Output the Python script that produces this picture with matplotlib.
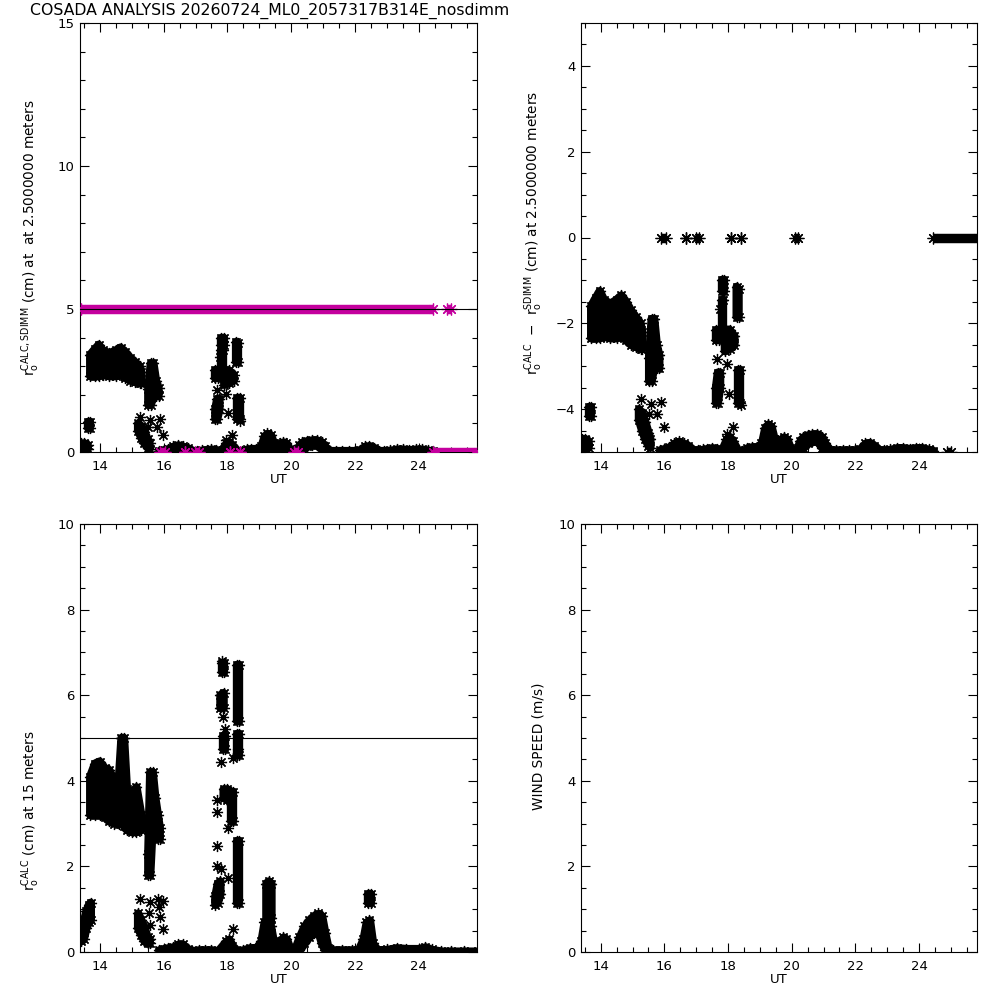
import numpy as np
import matplotlib.pyplot as plt
from matplotlib.ticker import MultipleLocator

nan = np.nan

# r0 CALC at 2.5 m: clusters as (time, lower edge, upper edge), nan between clusters
calc25_t = [13.42, 13.52, 13.62, nan,
            13.62, 13.70, nan,
            13.70, 13.85, 13.97, 14.10, 14.30, 14.50, 14.65, 14.80, 14.95, 15.10, 15.25, 15.30, nan,
            15.20, 15.30, 15.40, 15.50, 15.56, nan,
            15.52, 15.60, 15.68, 15.76, 15.84, nan,
            17.80, 17.88, nan,
            17.80, 17.85, nan,
            17.62, 17.70, nan,
            17.62, 17.68, 17.75, nan,
            17.90, 18.05, 18.20, nan,
            18.27, 18.33, nan,
            18.30, 18.38]
calc25_lo = [0.05, 0.08, 0.10, nan,
             0.85, 0.85, nan,
             2.65, 2.65, 2.65, 2.70, 2.65, 2.65, 2.70, 2.60, 2.50, 2.45, 2.40, 2.40, nan,
             0.75, 0.50, 0.30, 0.15, 0.10, nan,
             1.65, 1.65, 2.00, 1.95, 1.95, nan,
             3.75, 3.75, nan,
             2.65, 2.65, nan,
             2.60, 2.60, nan,
             1.15, 1.15, 1.50, nan,
             2.35, 2.40, 2.50, nan,
             3.15, 3.15, nan,
             1.15, 1.15]
calc25_hi = [0.30, 0.30, 0.25, nan,
             1.05, 1.05, nan,
             3.40, 3.60, 3.75, 3.55, 3.45, 3.55, 3.65, 3.50, 3.30, 3.15, 3.00, 2.80, nan,
             1.00, 0.90, 0.70, 0.45, 0.30, nan,
             2.20, 3.10, 3.10, 2.50, 2.25, nan,
             4.00, 4.00, nan,
             3.55, 3.55, nan,
             2.85, 2.85, nan,
             1.50, 1.85, 1.85, nan,
             2.85, 2.85, 2.70, nan,
             3.85, 3.80, nan,
             1.90, 1.90]

# low trace near zero at 2.5 m
base25_t = [15.85, 16.00, 16.15, 16.30, 16.45, 16.60, 16.75, 16.90, 17.05, 17.20, 17.35, 17.50,
            17.65, 17.80, 17.95, 18.05, 18.15, 18.30, 18.45, 18.60, 18.75, 18.90, 19.05, 19.15,
            19.25, 19.35, 19.45, 19.55, 19.65, 19.75, 19.85, 19.95, 20.05, 20.15, 20.25, 20.35,
            20.50, 20.65, 20.80, 20.95, 21.05, 21.20, 21.40, 21.60, 21.80, 22.00, 22.15, 22.30,
            22.45, 22.60, 22.75, 22.90, 23.10, 23.30, 23.50, 23.70, 23.90, 24.10, 24.30, 24.45]
base25_lo = [0.00, 0.00, 0.02, 0.05, 0.05, 0.05, 0.02, 0.00, 0.00, 0.00, 0.00, 0.00,
             0.00, 0.00, 0.05, 0.10, 0.05, 0.00, 0.00, 0.02, 0.03, 0.03, 0.05, 0.05,
             0.10, 0.08, 0.05, 0.02, 0.05, 0.05, 0.05, 0.02, 0.00, 0.00, 0.05, 0.10,
             0.20, 0.25, 0.25, 0.10, 0.02, 0.00, 0.00, 0.00, 0.00, 0.00, 0.00, 0.05,
             0.05, 0.02, 0.00, 0.00, 0.00, 0.02, 0.02, 0.02, 0.02, 0.02, 0.00, 0.00]
base25_hi = [0.05, 0.08, 0.12, 0.20, 0.25, 0.20, 0.15, 0.05, 0.05, 0.06, 0.08, 0.10,
             0.08, 0.05, 0.30, 0.35, 0.25, 0.05, 0.02, 0.10, 0.12, 0.12, 0.20, 0.55,
             0.65, 0.60, 0.30, 0.12, 0.30, 0.35, 0.30, 0.10, 0.03, 0.05, 0.25, 0.35,
             0.40, 0.42, 0.42, 0.35, 0.20, 0.05, 0.05, 0.05, 0.05, 0.05, 0.08, 0.20,
             0.22, 0.15, 0.05, 0.05, 0.06, 0.10, 0.10, 0.08, 0.10, 0.10, 0.06, 0.03]

# single points at 2.5 m
pts25_t = [15.25, 15.57, 15.88, 15.99, 15.51, 15.78, 17.66, 17.97, 18.03, 17.76, 18.40, 18.14, 17.97]
pts25_v = [1.23, 1.11, 1.17, 0.58, 0.88, 0.88, 2.16, 2.04, 1.35, 3.33, 1.10, 0.58, 0.41]

# SDIMM r0 at 2.5 m, runs of equal values
sdimm_t0 = [13.40, 24.87, 15.90, 16.68, 16.98, 18.08, 18.40, 20.10, 24.45]
sdimm_t1 = [24.45, 25.00, 16.05, 16.68, 17.10, 18.08, 18.40, 20.20, 25.85]
sdimm_v = [5, 5, 0, 0, 0, 0, 0, 0, 0]

# CALC - SDIMM where both are zero / calc is zero
diff_t0 = [15.90, 16.68, 16.98, 18.08, 18.40, 20.10, 24.45, 24.87]
diff_t1 = [16.05, 16.68, 17.10, 18.08, 18.40, 20.20, 25.85, 25.00]
diff_v = [0, 0, 0, 0, 0, 0, 0, -5]

# r0 CALC at 15 m
calc15_t = [13.42, 13.50, 13.58, 13.66, 13.72, nan,
            13.70, 13.85, 14.00, 14.15, 14.30, 14.45, 14.60, 14.68, 14.76, 14.85, 15.00, 15.15, 15.30, nan,
            15.20, 15.30, 15.40, 15.50, 15.56, nan,
            15.52, 15.58, 15.66, 15.74, 15.82, 15.88, nan,
            17.62, 17.70, 17.78, nan,
            17.82, 17.90, nan,
            17.78, 17.88, nan,
            17.85, 17.92, nan,
            17.88, 18.00, 18.08, nan,
            18.12, 18.18, nan,
            18.30, 18.35, nan,
            18.30, 18.35, nan,
            18.30, 18.35, nan,
            19.22, 19.30, 19.38, nan,
            22.42, 22.50]
calc15_lo = [0.25, 0.30, 0.55, 0.70, 0.75, nan,
             3.20, 3.20, 3.20, 3.15, 3.05, 3.00, 3.00, 3.00, 2.95, 2.85, 2.80, 2.80, 2.85, nan,
             0.55, 0.40, 0.25, 0.20, 0.20, nan,
             1.80, 1.80, 3.00, 2.75, 2.65, 2.65, nan,
             1.10, 1.15, 1.35, nan,
             6.55, 6.55, nan,
             5.70, 5.70, nan,
             4.75, 4.75, nan,
             3.60, 3.55, 3.55, nan,
             3.05, 3.05, nan,
             5.40, 5.40, nan,
             4.60, 4.60, nan,
             1.15, 1.15, nan,
             0.70, 0.60, 0.80, nan,
             1.15, 1.15]
calc15_hi = [0.45, 0.70, 0.95, 1.10, 1.15, nan,
             4.10, 4.40, 4.45, 4.30, 4.25, 4.00, 4.05, 5.00, 5.00, 3.80, 3.70, 3.85, 3.20, nan,
             0.90, 0.75, 0.55, 0.35, 0.30, nan,
             2.30, 4.20, 4.20, 3.60, 3.20, 2.90, nan,
             1.30, 1.60, 1.65, nan,
             6.75, 6.75, nan,
             6.00, 6.05, nan,
             5.05, 5.05, nan,
             3.80, 3.80, 3.75, nan,
             3.75, 3.75, nan,
             6.70, 6.70, nan,
             5.10, 5.10, nan,
             2.60, 2.60, nan,
             1.60, 1.65, 1.60, nan,
             1.35, 1.35]

base15_t = [15.85, 16.00, 16.15, 16.30, 16.45, 16.60, 16.75, 16.90, 17.10, 17.30, 17.50, 17.70,
            17.95, 18.05, 18.15, 18.30, 18.50, 18.70, 18.90, 19.05, 19.15, 19.25, 19.35, 19.45,
            19.55, 19.65, 19.75, 19.85, 19.95, 20.10, 20.25, 20.40, 20.55, 20.70, 20.85, 20.95,
            21.05, 21.15, 21.30, 21.60, 21.90, 22.10, 22.25, 22.35, 22.45, 22.55, 22.70, 23.00,
            23.30, 23.60, 24.00, 24.20, 24.40, 24.70, 25.00, 25.40, 25.85]
base15_lo = [0.00, 0.00, 0.02, 0.02, 0.05, 0.05, 0.00, 0.00, 0.00, 0.00, 0.00, 0.00,
             0.05, 0.10, 0.00, 0.00, 0.00, 0.02, 0.02, 0.05, 0.10, 0.15, 0.10, 0.05,
             0.02, 0.05, 0.05, 0.05, 0.02, 0.00, 0.05, 0.20, 0.35, 0.45, 0.45, 0.20,
             0.05, 0.00, 0.00, 0.00, 0.00, 0.00, 0.05, 0.10, 0.10, 0.05, 0.00, 0.00,
             0.02, 0.02, 0.02, 0.02, 0.00, 0.00, 0.00, 0.00, 0.00]
base15_hi = [0.05, 0.08, 0.10, 0.12, 0.18, 0.18, 0.08, 0.03, 0.05, 0.05, 0.05, 0.03,
             0.25, 0.30, 0.15, 0.03, 0.05, 0.10, 0.10, 0.25, 0.70, 0.75, 0.60, 0.20,
             0.10, 0.25, 0.35, 0.30, 0.10, 0.05, 0.35, 0.60, 0.75, 0.85, 0.90, 0.85,
             0.45, 0.10, 0.05, 0.05, 0.05, 0.05, 0.30, 0.70, 0.75, 0.20, 0.05, 0.06,
             0.10, 0.08, 0.08, 0.12, 0.06, 0.02, 0.02, 0.02, 0.02]

pts15_t = [15.25, 15.57, 15.55, 15.57, 15.83, 15.99, 15.86, 15.88, 15.99,
           17.66, 17.66, 17.66, 17.66, 17.79, 18.03, 18.03, 17.79, 17.87, 17.92, 18.18, 18.34, 18.16, 17.82]
pts15_v = [1.24, 1.16, 0.92, 0.62, 1.24, 1.20, 1.04, 0.81, 0.54,
           3.54, 3.26, 2.48, 2.02, 1.94, 2.90, 1.74, 4.43, 5.48, 5.21, 4.54, 4.74, 0.54, 6.80]

t_min, t_max = 13.38, 25.82
magenta = '#c4009e'
AST = (8, 2, 0)


def style_axes(ax, ymin, ymax, ymajor, yminor):
    ax.set_xlim(t_min, t_max)
    ax.set_ylim(ymin, ymax)
    ax.xaxis.set_major_locator(MultipleLocator(2))
    ax.xaxis.set_minor_locator(MultipleLocator(0.5))
    ax.yaxis.set_major_locator(MultipleLocator(ymajor))
    ax.yaxis.set_minor_locator(MultipleLocator(yminor))
    ax.tick_params(which='both', direction='in', top=True, right=True, width=0.8, labelsize=9.5)
    ax.tick_params(which='major', length=6.5, pad=4)
    ax.tick_params(which='minor', length=3.3)
    ax.tick_params(axis='x', which='major', pad=6)
    for s in ax.spines.values():
        s.set_linewidth(0.8)
    ax.set_xlabel('UT', fontsize=9.5, labelpad=0)


def bands(ax, t, lo, hi, color='black'):
    # a thick outline makes the filled area as wide as the asterisks around it
    ax.fill_between(t, lo, hi, facecolor=color, edgecolor=color, lw=6.0,
                    joinstyle='round', zorder=2)
    ax.plot(t, lo, ls='none', marker=AST, ms=8, mew=0.9, color=color, zorder=2)
    ax.plot(t, hi, ls='none', marker=AST, ms=8, mew=0.9, color=color, zorder=2)


def points(ax, t, v, color='black'):
    ax.plot(t, v, ls='none', marker=AST, ms=8, mew=0.9, color=color, zorder=2)


def runs(ax, t0, t1, v, color):
    for a, b, y in zip(t0, t1, v):
        ax.plot([a, b], [y, y], color=color, lw=6.8, solid_capstyle='butt', zorder=3)
        ax.plot([a, b], [y, y], ls='none', marker=AST, ms=8.5, mew=0.9, color=color, zorder=3)


fig = plt.figure(figsize=(10, 10), dpi=100)
ax1 = fig.add_axes([0.080, 0.548, 0.397, 0.429])
ax2 = fig.add_axes([0.581, 0.548, 0.396, 0.429])
ax3 = fig.add_axes([0.080, 0.048, 0.397, 0.428])
ax4 = fig.add_axes([0.581, 0.048, 0.396, 0.428])

fig.text(0.030, 0.9895, 'COSADA ANALYSIS 20260724_ML0_2057317B314E_nosdimm', fontsize=11.3, va='center')

# panel 1: r0 calc and sdimm at 2.5 m
bands(ax1, calc25_t, calc25_lo, calc25_hi)
bands(ax1, base25_t, base25_lo, base25_hi)
points(ax1, pts25_t, pts25_v)
runs(ax1, sdimm_t0, sdimm_t1, sdimm_v, magenta)
ax1.axhline(5, color='black', lw=0.8, zorder=4)
style_axes(ax1, 0, 15, 5, 1)
ax1.set_ylabel(r'r$_{\rm o}^{\rm CALC,SDIMM}$ (cm) at  at 2.5000000 meters', fontsize=9.8)
ax1.yaxis.set_label_coords(-0.095, 0.5)

# panel 2: difference calc - sdimm
bands(ax2, calc25_t, np.array(calc25_lo) - 5, np.array(calc25_hi) - 5)
bands(ax2, base25_t, np.array(base25_lo) - 5, np.array(base25_hi) - 5)
points(ax2, pts25_t, np.array(pts25_v) - 5)
runs(ax2, diff_t0, diff_t1, diff_v, 'black')
style_axes(ax2, -5, 5, 2, 0.5)
ax2.set_ylabel(r'r$_{\rm o}^{\rm CALC}$  $-$  r$_{\rm o}^{\rm SDIMM}$ (cm) at 2.5000000 meters', fontsize=9.8)
ax2.yaxis.set_label_coords(-0.09, 0.51)

# panel 3: r0 calc at 15 m
bands(ax3, calc15_t, calc15_lo, calc15_hi)
bands(ax3, base15_t, base15_lo, base15_hi)
points(ax3, pts15_t, pts15_v)
ax3.axhline(5, color='black', lw=0.8, zorder=4)
style_axes(ax3, 0, 10, 2, 0.5)
ax3.set_ylabel(r'r$_{\rm o}^{\rm CALC}$ (cm) at 15 meters', fontsize=9.8)
ax3.yaxis.set_label_coords(-0.095, 0.33)

# panel 4: wind speed (empty)
style_axes(ax4, 0, 10, 2, 0.5)
ax4.set_ylabel('WIND SPEED (m/s)', fontsize=9.8)
ax4.yaxis.set_label_coords(-0.09, 0.48)

plt.savefig('out.png', dpi=100)
